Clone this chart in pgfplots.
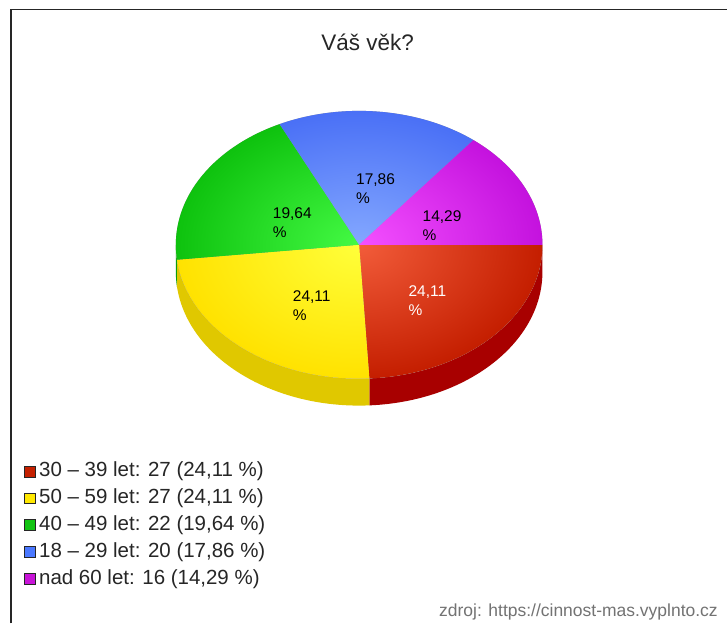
\documentclass[border=0pt]{standalone}
\usepackage{pgfplots}
\pgfplotsset{compat=1.18}
\usepackage{pgfplotstable}
\usepackage{fontspec}
\setmainfont{Liberation Sans}

% slice colours: top face (centre / rim), side, legend box
\definecolor{pierIn}{HTML}{F25C3A}
\definecolor{pierOut}{HTML}{C41E00}
\definecolor{pierSide}{HTML}{A80000}
\definecolor{pierLeg}{HTML}{C42000}
\definecolor{pieyIn}{HTML}{FFFF3A}
\definecolor{pieyOut}{HTML}{FFE200}
\definecolor{pieySide}{HTML}{E0C800}
\definecolor{pieyLeg}{HTML}{FFE800}
\definecolor{piegIn}{HTML}{44FA44}
\definecolor{piegOut}{HTML}{0EC20E}
\definecolor{piegSide}{HTML}{0A9E0A}
\definecolor{piegLeg}{HTML}{12C412}
\definecolor{piebIn}{HTML}{84A8FF}
\definecolor{piebOut}{HTML}{4A70F6}
\definecolor{piebSide}{HTML}{3050C0}
\definecolor{piebLeg}{HTML}{4A78FF}
\definecolor{piemIn}{HTML}{F450FF}
\definecolor{piemOut}{HTML}{C412DE}
\definecolor{piemSide}{HTML}{9000A8}
\definecolor{piemLeg}{HTML}{C814D8}

\pgfplotstableread[col sep=semicolon]{
name;value;key;txt
30 – 39 let;27;r;white
50 – 59 let;27;y;black
40 – 49 let;22;g;black
18 – 29 let;20;b;black
nad 60 let;16;m;black
}\agedata

% pie geometry (in px of the reference)
\def\cx{359.5}\def\cy{245}\def\rx{183.5}\def\ry{134}\def\dep{27}

\pgfkeys{/pgf/number format/.cd,fixed,fixed zerofill,precision=2,use comma,assume math mode=true}

\begin{document}
\begin{tikzpicture}
\begin{axis}[x=1pt, y=1pt, xmin=0, xmax=728, ymin=0, ymax=624, y dir=reverse,
  enlargelimits=false, hide axis, scale only axis, clip=false]
\pgfplotsextra{
  \fill[white] (axis cs:0,0) rectangle (axis cs:728,624);
  \draw[line width=1.5pt, black!85] (axis cs:11,624) -- (axis cs:11,9.5) -- (axis cs:728,9.5);
  \node[font=\fontsize{22.5}{26}\selectfont, text=black!85] at (axis cs:368,42) {Váš věk?};
  \node[anchor=base east, font=\fontsize{17.5}{20}\selectfont, text=black!55] at (axis cs:722,617) {zdroj: https://cinnost-mas.vyplnto.cz};
  % total
  \pgfplotstablegetrowsof{\agedata}\pgfmathtruncatemacro\nlast{\pgfplotsretval-1}
  \def\total{0}
  \pgfplotsforeachungrouped \i in {0,...,\nlast}{%
    \pgfplotstablegetelem{\i}{value}\of\agedata
    \pgfmathsetmacro\total{\total+\pgfplotsretval}}
  % sides (front half only)
  \def\angS{0}
  \pgfplotsforeachungrouped \i in {0,...,\nlast}{%
    \pgfplotstablegetelem{\i}{value}\of\agedata
    \pgfmathsetmacro\angE{\angS-360*\pgfplotsretval/\total}
    \pgfplotstablegetelem{\i}{key}\of\agedata \edef\k{\pgfplotsretval}
    \pgfmathsetmacro\a{max(\angE,-180)}
    \pgfmathsetmacro\b{min(\angS,0)}
    \pgfmathtruncatemacro\vis{\a<\b}
    \ifnum\vis=1
      \fill[pie\k Side] (axis cs:\cx,\cy) ++(\b:\rx pt and \ry pt)
        arc[start angle=\b, end angle=\a, x radius=\rx pt, y radius=\ry pt]
        -- ++(0,-\dep pt)
        arc[start angle=\a, end angle=\b, x radius=\rx pt, y radius=\ry pt] -- cycle;
    \fi
    \let\angS\angE}
  % top faces
  \fill[black!40] (axis cs:\cx,\cy) ellipse[x radius=\rx pt, y radius=\ry pt];
  \def\angS{0}
  \pgfplotsforeachungrouped \i in {0,...,\nlast}{%
    \pgfplotstablegetelem{\i}{value}\of\agedata
    \pgfmathsetmacro\angE{\angS-360*\pgfplotsretval/\total}
    \pgfplotstablegetelem{\i}{key}\of\agedata \edef\k{\pgfplotsretval}
    \begin{scope}
      \clip (axis cs:\cx,\cy) -- ++(\angS:\rx pt and \ry pt)
        arc[start angle=\angS, end angle=\angE, x radius=\rx pt, y radius=\ry pt] -- cycle;
      \shade[inner color=pie\k In, outer color=pie\k Out] (axis cs:\cx,\cy) ellipse[x radius=\rx pt, y radius=\ry pt];
    \end{scope}
    \let\angS\angE}
  % slice labels and legend
  \def\angS{0}
  \pgfplotsforeachungrouped \i in {0,...,\nlast}{%
    \pgfplotstablegetelem{\i}{value}\of\agedata \edef\val{\pgfplotsretval}
    \pgfplotstablegetelem{\i}{name}\of\agedata \edef\lname{\pgfplotsretval}
    \pgfplotstablegetelem{\i}{key}\of\agedata \edef\k{\pgfplotsretval}
    \pgfplotstablegetelem{\i}{txt}\of\agedata \edef\txt{\pgfplotsretval}
    \pgfmathsetmacro\angE{\angS-360*\val/\total}
    \pgfmathsetmacro\mid{(\angS+\angE)/2}
    \pgfmathsetmacro\lx{\cx+0.46*cos(\mid)*\rx+7}
    \pgfmathsetmacro\ly{\cy-0.5*sin(\mid)*\ry+10}
    \pgfmathsetmacro\pct{\val/\total*100}
    \pgfmathprintnumberto{\pct}{\pctstr}
    \node[align=left, inner sep=0pt, text=\txt, font=\fontsize{15.5}{19}\selectfont]
      at (axis cs:\lx,\ly) {\pctstr\\\%};
    \pgfmathsetmacro\legy{472+27*\i}
    \pgfmathsetmacro\legt{\legy-5.5}
    \pgfmathsetmacro\legb{\legy+5.5}
    \filldraw[fill=pie\k Leg, draw=black!85, line width=1pt]
      (axis cs:24.5,\legt) rectangle (axis cs:35.5,\legb);
    \node[anchor=west, inner sep=0pt, font=\fontsize{20.5}{24}\selectfont, text=black!85]
      at (axis cs:39,\legy) {\lname: \val\ (\pctstr\ \%)};
    \let\angS\angE}
}
\end{axis}
\end{tikzpicture}
\end{document}
